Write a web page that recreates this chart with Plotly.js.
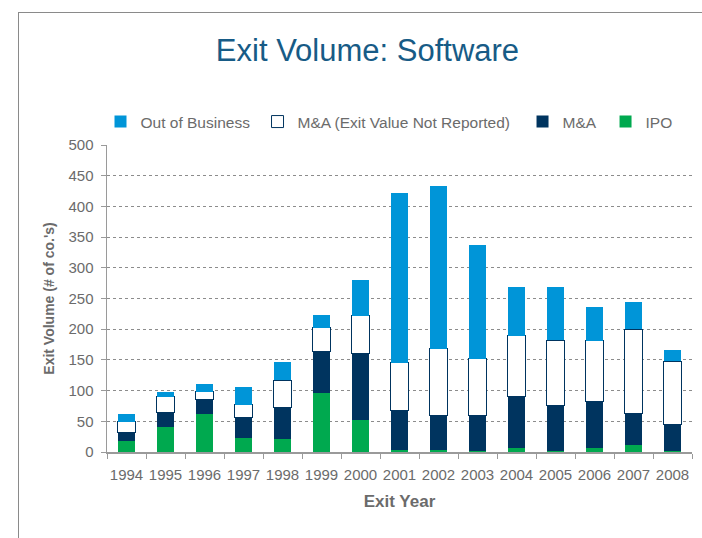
<!DOCTYPE html>
<html>
<head>
<meta charset="utf-8">
<script src="https://cdn.plot.ly/plotly-3.0.1.min.js"></script>
<style>
  html, body { margin: 0; padding: 0; background: #fff; }
  #wrap { position: relative; width: 702px; height: 538px; }
  #chart { position: absolute; left: 0; top: 0; width: 702px; height: 538px; }
  #frame { position: absolute; left: 18px; top: 12px; width: 690px; height: 540px;
           border-left: 1px solid #8a8a8a; border-top: 1px solid #8a8a8a; pointer-events: none; }
</style>
</head>
<body>
<div id="wrap">
  <div id="chart"></div>
  <div id="frame"></div>
</div>
<script>
const years = ["1994","1995","1996","1997","1998","1999","2000","2001","2002","2003","2004","2005","2006","2007","2008"];
const ipo          = [18, 41, 62, 23, 21, 96, 52,   3,   3,   2,  6,   2,  6,  11,   2];
const ma           = [13, 24, 24, 34, 52, 68, 108, 65,  57,  57, 84,  73, 77,  51,  42];
const maNotReported= [18, 25, 12, 20, 44, 38, 62,  77, 108,  93, 99, 107, 98, 138, 104];
const outOfBusiness= [13,  8, 13, 29, 30, 21, 58, 277, 265, 185, 80,  86, 55,  44,  18];

const FAM = "Liberation Sans, Arial, sans-serif";
const tickFont = {family: FAM, size: 15, color: "#6b6b6b"};
const legFont = {family: FAM, size: 15.5, color: "#6b6b6b"};

const traces = [
  {type: "bar", name: "IPO", x: years, y: ipo, legend: "legend4", marker: {color: "#00a94f", line: {width: 0}}},
  {type: "bar", name: "M&A", x: years, y: ma, legend: "legend3", marker: {color: "#00345f", line: {width: 0}}},
  {type: "bar", name: "M&A (Exit Value Not Reported)", x: years, y: maNotReported, legend: "legend2",
   marker: {color: "#ffffff", line: {color: "#00345f", width: 1}}},
  {type: "bar", name: "Out of Business", x: years, y: outOfBusiness, legend: "legend", marker: {color: "#0095d8", line: {width: 0}}}
];

function leg(x) {
  return {orientation: "h", x: x, xanchor: "left", y: 1.075, yanchor: "middle", font: legFont, bgcolor: "rgba(0,0,0,0)"};
}

const layout = {
  width: 702, height: 538,
  margin: {l: 107, r: 10, t: 145, b: 86},
  paper_bgcolor: "#ffffff", plot_bgcolor: "#ffffff",
  barmode: "stack", bargap: 0.56,
  font: tickFont,
  title: {text: "Exit Volume: Software", font: {family: FAM, size: 31, color: "#175b86"},
          xref: "container", x: 0.5235, xanchor: "center", yref: "container", y: 0.907, yanchor: "middle"},
  showlegend: true,
  legend: leg(-0.0111),
  legend2: leg(0.2573),
  legend3: leg(0.7103),
  legend4: leg(0.8522),
  xaxis: {type: "category", showgrid: false, showline: true, linecolor: "#9a9a9a", linewidth: 1.5,
          ticks: "outside", tickson: "boundaries", ticklen: 5, tickcolor: "#9a9a9a",
          tickangle: 0, tickfont: tickFont, ticklabelstandoff: 8,
          title: {text: "Exit Year", font: {family: FAM, size: 17, color: "#6b6b6b", weight: "bold"}, standoff: 13}},
  yaxis: {range: [0, 500], dtick: 50, showline: true, linecolor: "#9a9a9a", linewidth: 1.5,
          ticks: "outside", ticklen: 5, tickcolor: "#9a9a9a", ticklabelstandoff: 4,
          showgrid: true, gridcolor: "#8c8c8c", griddash: "dot", gridwidth: 1, zeroline: false,
          tickfont: tickFont,
          title: {text: "Exit Volume (# of co.'s)", font: {family: FAM, size: 14, color: "#6b6b6b", weight: "bold"}, standoff: 10}}
};

Plotly.newPlot("chart", traces, layout, {displayModeBar: false, staticPlot: true});
</script>
</body>
</html>
